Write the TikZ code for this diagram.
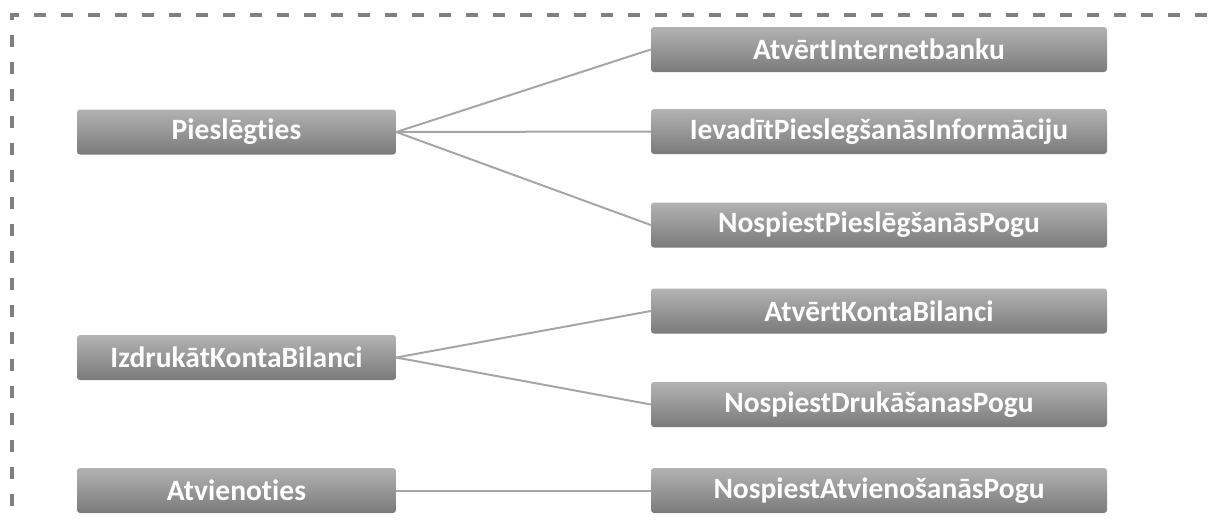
\documentclass[tikz,border=0pt]{standalone}
\usepackage{fontspec}
\setmainfont[Ligatures={NoCommon,NoDiscretionary}]{Carlito}
\begin{document}
\begin{tikzpicture}[x=1pt,y=-1pt,
  task/.style={rounded corners=3pt, top color=black!30, bottom color=black!52,
    draw=none, minimum height=45pt, inner sep=0pt,
    font=\bfseries\fontsize{29.5}{32}\selectfont, text=white},
  leftbox/.style={task, minimum width=319pt},
  rightbox/.style={task, minimum width=456pt},
  link/.style={draw=black!35, line width=2pt},
  frame/.style={draw=black!50, line width=3.5pt, dash pattern=on 12pt off 15pt}]
\useasboundingbox (0,0) rectangle (1212,520);
\begin{scope}
\clip (0,0) rectangle (1212,520);
\draw[frame] (12,560) -- (12,15) -- (1250,15);
\end{scope}

% parent tasks
\node[leftbox] (p1) at (236.5,132) {Pieslēgties};
\node[leftbox] (p2) at (236.5,357.5) {IzdrukātKontaBilanci};
\node[leftbox] (p3) at (236.5,490.5) {Atvienoties};

% sub-tasks
\node[rightbox] (c1) at (879,49.5) {AtvērtInternetbanku};
\node[rightbox] (c2) at (879,131.5) {IevadītPieslegšanāsInformāciju};
\node[rightbox] (c3) at (879,225) {NospiestPieslēgšanāsPogu};
\node[rightbox] (c4) at (879,311) {AtvērtKontaBilanci};
\node[rightbox] (c5) at (879,404.5) {NospiestDrukāšanasPogu};
\node[rightbox] (c6) at (879,490.5) {NospiestAtvienošanāsPogu};

% links
\draw[link] (p1.east) -- (c1.west);
\draw[link] (p1.east) -- (c2.west);
\draw[link] (p1.east) -- (c3.west);
\draw[link] (p2.east) -- (c4.west);
\draw[link] (p2.east) -- (c5.west);
\draw[link] (p3.east) -- (c6.west);
\end{tikzpicture}
\end{document}
